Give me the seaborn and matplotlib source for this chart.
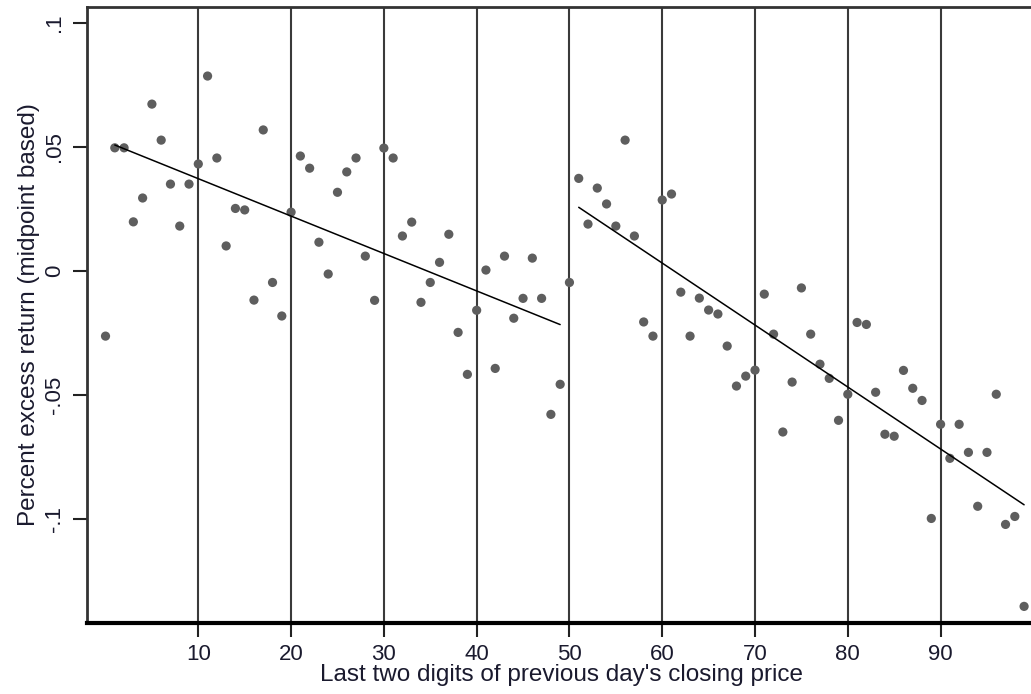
import matplotlib
matplotlib.use("Agg")
import matplotlib.pyplot as plt
import numpy as np
import pandas as pd
import seaborn as sns

# ---- data ----
last_two_digits = list(range(100))
excess_return = [
    -0.0262, 0.0496, 0.0496, 0.0198, 0.0294, 0.0672, 0.0527, 0.0350, 0.0181, 0.0350,
    0.0431, 0.0785, 0.0455, 0.0101, 0.0252, 0.0246, -0.0117, 0.0568, -0.0046, -0.0181,
    0.0237, 0.0463, 0.0414, 0.0116, -0.0012, 0.0317, 0.0399, 0.0455, 0.0060, -0.0118,
    0.0495, 0.0455, 0.0141, 0.0197, -0.0126, -0.0046, 0.0035, 0.0148, -0.0247, -0.0416,
    -0.0158, 0.0004, -0.0392, 0.0060, -0.0190, -0.0110, 0.0052, -0.0110, -0.0577, -0.0456,
    -0.0046, 0.0373, 0.0189, 0.0334, 0.0270, 0.0181, 0.0527, 0.0141, -0.0205, -0.0262,
    0.0286, 0.0310, -0.0085, -0.0262, -0.0109, -0.0157, -0.0173, -0.0302, -0.0463, -0.0423,
    -0.0399, -0.0093, -0.0254, -0.0648, -0.0447, -0.0068, -0.0254, -0.0375, -0.0432, -0.0601,
    -0.0496, -0.0207, -0.0215, -0.0488, -0.0657, -0.0665, -0.0400, -0.0472, -0.0521, -0.0996,
    -0.0617, -0.0754, -0.0617, -0.0730, -0.0947, -0.0730, -0.0496, -0.1020, -0.0988, -0.1350,
]
fit_ranges = [(1, 49), (51, 99)]
x_ticks = [10, 20, 30, 40, 50, 60, 70, 80, 90]
y_ticks = [-0.1, -0.05, 0.0, 0.05, 0.1]
y_tick_labels = ["-.1", "-.05", "0", ".05", ".1"]
x_label = "Last two digits of previous day's closing price"
y_label = "Percent excess return (midpoint based)"

df = pd.DataFrame({"digits": last_two_digits, "ret": excess_return})

sns.set_style("white")
plt.rcParams["font.family"] = ["Liberation Sans", "DejaVu Sans"]

fig = plt.figure(figsize=(10.31, 6.94), dpi=100)
ax = fig.add_axes([0.0847, 0.1019, 0.9203, 0.8884])

sns.scatterplot(data=df, x="digits", y="ret", ax=ax, color="#5e5e5e",
                s=44, edgecolor="none", zorder=3)
for lo, hi in fit_ranges:
    sub = df[(df["digits"] >= lo) & (df["digits"] <= hi)]
    sns.regplot(data=sub, x="digits", y="ret", ax=ax, scatter=False, ci=None,
                truncate=True, color="black", line_kws=dict(lw=1.1, zorder=4))

ax.set_xlim(-1.96, 100.3)
ax.set_ylim(-0.1418, 0.1064)
ax.set_xticks(x_ticks)
ax.set_xticklabels([str(t) for t in x_ticks])
ax.set_yticks(y_ticks)
ax.set_yticklabels(y_tick_labels, rotation=90, va="center")

ax.set_axisbelow(True)
ax.grid(axis="x", color="#3a3a3a", lw=1.5)
ax.grid(axis="y", visible=False)

for s in ["top", "left"]:
    ax.spines[s].set_color("#333333")
    ax.spines[s].set_linewidth(2.0)
ax.spines["bottom"].set_color("black")
ax.spines["bottom"].set_linewidth(3.0)
ax.spines["right"].set_visible(False)

ax.tick_params(axis="both", which="major", direction="out", length=10,
               width=1.5, color="#222222", labelsize=16, labelcolor="#1a1a2e",
               bottom=True, left=True)
ax.tick_params(axis="x", pad=5)
ax.tick_params(axis="y", pad=6)

ax.set_xlabel(x_label, fontsize=17.5, color="#1a1a2e", labelpad=-1)
ax.set_ylabel(y_label, fontsize=17.5, color="#1a1a2e", labelpad=3)

fig.savefig("out.png", dpi=100)
